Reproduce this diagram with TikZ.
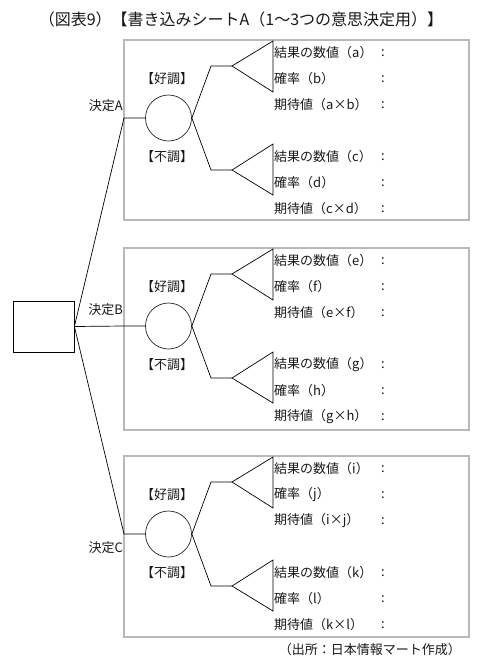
\documentclass[tikz,border=0pt]{standalone}
\usepackage{fontspec}
\setmainfont{Noto Sans CJK JP}
\begin{document}
\begin{tikzpicture}[x=1pt,y=-1pt,
  txt/.style={inner sep=0pt,font=\fontsize{13}{15}\selectfont,text=black!90},
  ttl/.style={inner sep=0pt,font=\fontsize{16}{18}\selectfont,text=black!90},
  sheet/.style={draw=black!28,line width=1.6pt},
  chance/.style={circle,draw=black!85,line width=0.7pt,minimum size=46pt,inner sep=0pt},
  decbox/.style={draw=black,line width=0.8pt,minimum width=61pt,minimum height=51pt,inner sep=0pt},
  tree/.style={draw=black,line width=0.7pt}]
\useasboundingbox (0,0) rectangle (483,665);
\fill[white] (0,0) rectangle (483,665);
\node[ttl] (title) at (241,19) {（図表9）【書き込みシートA（1～3つの意思決定用）】};
\node[decbox] (dec) at (43.5,326.5) {};
\foreach \n/\cy/\bt/\bb/\p/\q/\r/\s in {A/118/40/220/a/b/c/d, B/326/248/430/e/f/g/h, C/534/456/637/i/j/k/l}{
  \draw[sheet] (124,\bt) rectangle (469,\bb);
  \node[chance] (c\n) at (168.5,\cy) {};
  \coordinate (j\n) at (124,\cy);
  \draw[tree] (dec.east) -- (j\n) -- (c\n.west);
  % upper branch
  \coordinate (u\n) at (211,\cy-52);
  \coordinate (ua\n) at (232,\cy-52);
  \coordinate (ut\n) at (273,\cy-77);
  \coordinate (ub\n) at (273,\cy-26);
  \draw[tree] (c\n.east) -- (u\n) -- (ua\n);
  \draw[tree] (ua\n) -- (ut\n) -- (ub\n) -- cycle;
  % lower branch
  \coordinate (l\n) at (211,\cy+52);
  \coordinate (la\n) at (232,\cy+52);
  \coordinate (lt\n) at (273,\cy+26);
  \coordinate (lb\n) at (273,\cy+77);
  \draw[tree] (c\n.east) -- (l\n) -- (la\n);
  \draw[tree] (la\n) -- (lt\n) -- (lb\n) -- cycle;
  \node[txt] (good\n) at (167,\cy-39) {【好調】};
  \node[txt] (bad\n) at (167,\cy+39) {【不調】};
  % rows
  \node[txt,anchor=west] (r1\n) at (274,\cy-65) {結果の数値（\p）};
  \node[txt,anchor=west] (r2\n) at (274,\cy-39) {確率（\q）};
  \node[txt,anchor=west] (r3\n) at (274,\cy-13) {期待値（\p×\q）};
  \node[txt,anchor=west] (r4\n) at (274,\cy+39) {結果の数値（\r）};
  \node[txt,anchor=west] (r5\n) at (274,\cy+65) {確率（\s）};
  \node[txt,anchor=west] (r6\n) at (274,\cy+91) {期待値（\r×\s）};
  \foreach \k/\dy in {1/-65,2/-39,3/-13,4/39,5/65,6/91}{
    \node[txt] (col\n\k) at (383,\cy+\dy) {:};
  }
}
\node[txt,anchor=east] (dA) at (123,106) {決定A};
\node[txt,anchor=east] (dB) at (123,310) {決定B};
\node[txt,anchor=east] (dC) at (123,548) {決定C};
\node[txt,anchor=east] (src) at (461,650) {（出所：日本情報マート作成）};
\end{tikzpicture}
\end{document}
